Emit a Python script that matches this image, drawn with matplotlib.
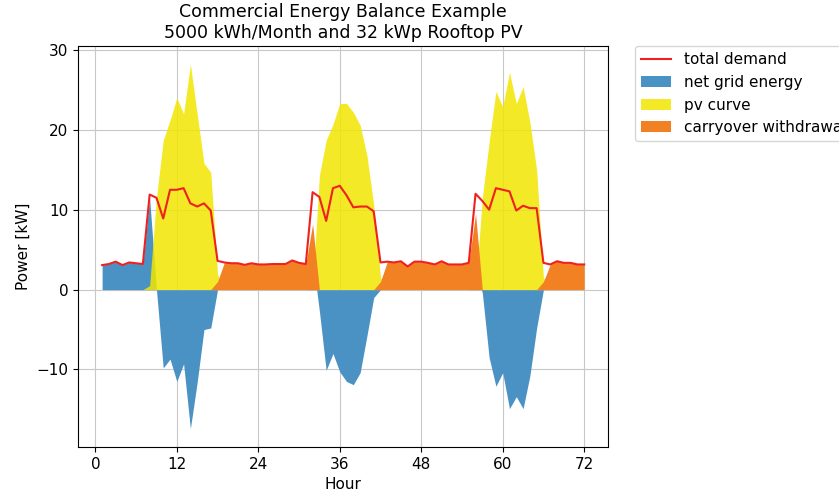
import numpy as np
import matplotlib
matplotlib.use('Agg')
import matplotlib.pyplot as plt

hours = np.arange(1, 73)

# total demand [kW]
demand = [3.07, 3.2, 3.5, 3.07, 3.4, 3.3, 3.2, 11.9, 11.5, 8.9, 12.5, 12.5,
          12.7, 10.8, 10.4, 10.8, 9.9, 3.6, 3.4, 3.3, 3.3, 3.1, 3.3, 3.15,
          3.15, 3.2, 3.2, 3.2, 3.65, 3.35, 3.2, 12.2, 11.6, 8.6, 12.7, 13.0,
          11.8, 10.3, 10.4, 10.4, 9.8, 3.4, 3.5, 3.4, 3.55, 2.9, 3.5, 3.5,
          3.35, 3.15, 3.55, 3.15, 3.15, 3.15, 3.35, 12.0, 11.1, 10.0, 12.7, 12.5,
          12.3, 9.9, 10.5, 10.2, 10.2, 3.35, 3.15, 3.55, 3.35, 3.35, 3.15, 3.15]

# net grid energy [kW]
net_grid = [3.07, 3.2, 3.5, 3.07, 3.4, 3.3, 3.2, 11.4, 0.0, -9.8, -8.7, -11.5,
            -9.3, -17.4, -11.6, -5.0, -4.8, 0, 0, 0, 0, 0, 0, 0,
            0, 0, 0, 0, 0, 0, 0, 4.0, -2.7, -10.1, -8.0, -10.3,
            -11.5, -11.9, -10.4, -5.8, -1.0, 0, 0, 0, 0, 0, 0, 0,
            0, 0, 0, 0, 0, 0, 0, 2.5, -0.4, -8.5, -12.1, -10.4,
            -14.9, -13.4, -14.9, -10.8, -4.8, 0, 0, 0, 0, 0, 0, 0]

# pv generation [kW]
pv = [0, 0, 0, 0, 0, 0, 0, 0.5, 11.5, 18.7, 21.2, 24.0,
      22.0, 28.2, 22.0, 15.8, 14.7, 1.9, 0, 0, 0, 0, 0, 0,
      0, 0, 0, 0, 0, 0, 0, 0, 14.3, 18.7, 20.7, 23.3,
      23.3, 22.2, 20.6, 16.8, 10.6, 1.5, 0, 0, 0, 0, 0, 0,
      0, 0, 0, 0, 0, 0, 0, 0, 11.5, 18.5, 24.8, 22.9,
      27.2, 23.3, 25.4, 21.0, 15.0, 1.5, 0, 0, 0, 0, 0, 0]

# carryover withdrawal [kW]
carryover = [0, 0, 0, 0, 0, 0, 0, 0, 0, 0, 0, 0,
             0, 0, 0, 0, 0, 1.0, 3.4, 3.3, 3.3, 3.1, 3.3, 3.15,
             3.15, 3.2, 3.2, 3.2, 3.65, 3.35, 3.2, 8.2, 0, 0, 0, 0,
             0, 0, 0, 0, 0, 1.0, 3.5, 3.4, 3.55, 2.9, 3.5, 3.5,
             3.35, 3.15, 3.55, 3.15, 3.15, 3.15, 3.35, 9.5, 0, 0, 0, 0,
             0, 0, 0, 0, 0, 1.0, 3.15, 3.55, 3.35, 3.35, 3.15, 3.15]

plt.rcParams['font.size'] = 11

fig = plt.figure(figsize=(8.39, 4.91), dpi=100)
ax = fig.add_axes([0.093, 0.090, 0.632, 0.816])

ax.plot(hours, demand, color='#f02020', lw=1.5, label='total demand')
ax.fill_between(hours, net_grid, color='#4a92c4', lw=0, label='net grid energy')
ax.fill_between(hours, pv, color='#f2e600', alpha=0.85, lw=0, label='pv curve')
ax.fill_between(hours, carryover, color='#f28124', lw=0, label='carryover withdrawal')

ax.set_xticks(np.arange(0, 73, 12))
ax.set_yticks([-10, 0, 10, 20, 30])
ax.grid(True, color='#c8c8c8')
ax.set_axisbelow(True)
ax.set_xlabel('Hour')
ax.set_ylabel('Power [kW]')
ax.set_title('Commercial Energy Balance Example\n5000 kWh/Month and 32 kWp Rooftop PV', fontsize=12.5)
# legend sits outside the axes and runs past the right edge, as in the original
ax.legend(bbox_to_anchor=(1.05, 1), loc='upper left', borderaxespad=0.)

plt.savefig('out.png', dpi=100)
